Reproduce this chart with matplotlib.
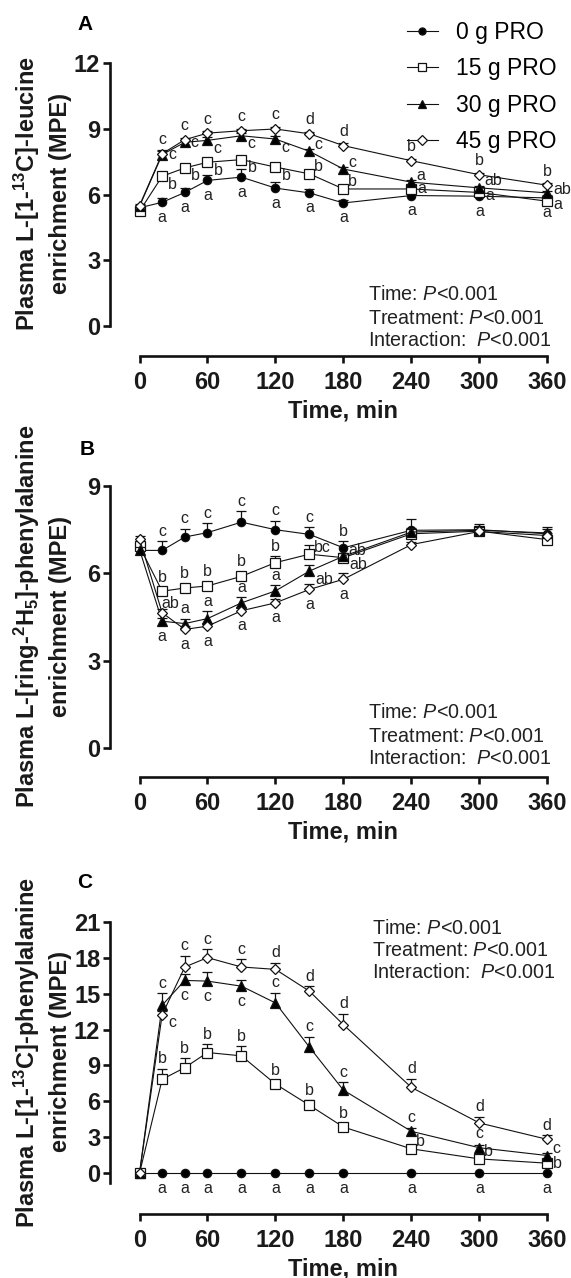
import matplotlib
matplotlib.use("Agg")
import matplotlib.pyplot as plt
from matplotlib.lines import Line2D

plt.rcParams['font.family'] = ['Liberation Sans', 'DejaVu Sans']
plt.rcParams['mathtext.fontset'] = 'custom'
plt.rcParams['mathtext.rm'] = 'Liberation Sans'
plt.rcParams['mathtext.it'] = 'Liberation Sans:italic'
plt.rcParams['mathtext.bf'] = 'Liberation Sans:bold'

# ---------------- data ----------------
TIME = [0, 20, 40, 60, 90, 120, 150, 180, 240, 300, 360]
XTICKS = [0, 60, 120, 180, 240, 300, 360]
GROUPS = ['0 g PRO', '15 g PRO', '30 g PRO', '45 g PRO']

# Panel A: plasma L-[1-13C]-leucine
LEU_0 = [5.40, 5.65, 6.10, 6.65, 6.80, 6.30, 6.08, 5.62, 5.96, 5.93, 5.85]
LEU_15 = [5.24, 6.84, 7.22, 7.48, 7.60, 7.26, 6.95, 6.26, 6.26, 6.10, 5.70]
LEU_30 = [5.47, 7.83, 8.39, 8.48, 8.69, 8.54, 7.98, 7.17, 6.57, 6.31, 6.08]
LEU_45 = [5.50, 7.87, 8.51, 8.81, 8.92, 9.00, 8.78, 8.24, 7.55, 6.91, 6.43]
LEU_SE_0 = [0.10, 0.20, 0.20, 0.26, 0.35, 0.30, 0.20, 0.12, 0.15, 0.12, 0.15]
LEU_SE_15 = [0.08, 0.15, 0.12, 0.12, 0.12, 0.15, 0.12, 0.10, 0.10, 0.10, 0.10]
LEU_SE_30 = [0.08, 0.22, 0.12, 0.15, 0.12, 0.15, 0.12, 0.10, 0.10, 0.10, 0.10]
LEU_SE_45 = [0.08, 0.12, 0.10, 0.10, 0.10, 0.10, 0.10, 0.10, 0.10, 0.10, 0.10]
LEU_LET_0 = ['', 'a', 'a', 'a', 'a', 'a', 'a', 'a', 'a', 'a', 'a']
LEU_LET_15 = ['', 'b', 'b', 'b', 'b', 'b', 'b', 'b', 'a', 'a', 'a']
LEU_LET_30 = ['', 'c', 'c', 'c', 'c', 'c', 'c', 'c', 'a', 'ab', 'ab']
LEU_LET_45 = ['', 'c', 'c', 'c', 'c', 'c', 'd', 'd', 'b', 'b', 'b']
LEU_YTICKS = [0, 3, 6, 9, 12]

# Panel B: plasma L-[ring-2H5]-phenylalanine
RING_0 = [6.79, 6.79, 7.25, 7.40, 7.76, 7.50, 7.34, 6.88, 7.48, 7.50, 7.36]
RING_15 = [6.93, 5.39, 5.50, 5.57, 5.90, 6.37, 6.66, 6.54, 7.36, 7.45, 7.16]
RING_30 = [6.82, 4.36, 4.28, 4.45, 4.99, 5.40, 6.08, 6.59, 7.42, 7.48, 7.39]
RING_45 = [7.19, 4.65, 4.08, 4.19, 4.72, 4.99, 5.45, 5.80, 6.99, 7.44, 7.30]
RING_SE_0 = [0.10, 0.32, 0.29, 0.33, 0.38, 0.31, 0.25, 0.22, 0.40, 0.18, 0.18]
RING_SE_15 = [0.12, 0.12, 0.10, 0.15, 0.15, 0.22, 0.30, 0.12, 0.15, 0.12, 0.10]
RING_SE_30 = [0.10, 0.12, 0.17, 0.26, 0.20, 0.20, 0.20, 0.12, 0.15, 0.12, 0.20]
RING_SE_45 = [0.10, 0.12, 0.10, 0.10, 0.12, 0.12, 0.20, 0.22, 0.10, 0.10, 0.10]
RING_LET_0 = ['', 'c', 'c', 'c', 'c', 'c', 'c', 'b', '', '', '']
RING_LET_15 = ['', 'b', 'b', 'b', 'b', 'b', 'bc', 'ab', '', '', '']
RING_LET_30 = ['', 'a', 'a', 'a', 'a', 'a', 'ab', 'ab', '', '', '']
RING_LET_45 = ['', 'ab', 'a', 'a', 'a', 'a', 'a', 'a', '', '', '']
RING_YTICKS = [0, 3, 6, 9]

# Panel C: plasma L-[1-13C]-phenylalanine
C13_0 = [0.0, 0.0, 0.0, 0.0, 0.0, 0.0, 0.0, 0.0, 0.0, 0.0, 0.0]
C13_15 = [0.0, 7.84, 8.82, 10.08, 9.80, 7.45, 5.68, 3.86, 2.04, 1.20, 0.84]
C13_30 = [0.0, 14.03, 16.10, 16.04, 15.62, 14.22, 10.53, 6.94, 3.50, 2.13, 1.48]
C13_45 = [0.0, 13.24, 17.22, 18.00, 17.22, 17.02, 15.20, 12.40, 7.17, 4.20, 2.83]
C13_SE_0 = [0.0, 0.0, 0.0, 0.0, 0.0, 0.0, 0.0, 0.0, 0.0, 0.0, 0.0]
C13_SE_15 = [0.0, 0.90, 0.80, 0.70, 0.80, 0.30, 0.40, 0.20, 0.20, 0.20, 0.20]
C13_SE_30 = [0.0, 1.00, 0.50, 0.75, 0.50, 0.84, 0.85, 0.65, 0.30, 0.25, 0.20]
C13_SE_45 = [0.0, 0.30, 0.92, 0.70, 0.65, 0.56, 0.42, 0.90, 0.70, 0.50, 0.34]
C13_LET_0 = ['', 'a', 'a', 'a', 'a', 'a', 'a', 'a', 'a', 'a', 'a']
C13_LET_15 = ['', 'b', 'b', 'b', 'b', 'b', 'b', 'b', 'b', 'b', 'b']
C13_LET_30 = ['', 'c', 'c', 'c', 'c', 'c', 'c', 'c', 'c', 'c', 'c']
C13_LET_45 = ['', 'c', 'c', 'c', 'c', 'd', 'd', 'd', 'd', 'd', 'd']
C13_YTICKS = [0, 3, 6, 9, 12, 15, 18, 21]

STATS = ['Time: $\\mathit{P}$<0.001', 'Treatment: $\\mathit{P}$<0.001',
         'Interaction:  $\\mathit{P}$<0.001']

# ---------------- label placement codes (layout only) ----------------
# u: above, d: below, r: right, r+/r-: right slightly up/down,
# ur/dr: upper/lower right, uc: up, close to the point on the right
POS_A = [
    ['', 'd', 'd', 'd', 'd', 'd', 'd', 'd', 'd', 'd', 'd'],
    ['', 'dr', 'dr', 'dr', 'dr', 'dr', 'ur', 'ur', 'r', 'r-', 'r-'],
    ['', 'r', 'r', 'dr', 'dr', 'dr', 'ur', 'ur', 'ur', 'ur', 'r+'],
    ['', 'u', 'u', 'u', 'u', 'u', 'u', 'u', 'u', 'u', 'u'],
]
POS_B = [
    ['', 'u', 'u', 'u', 'u', 'u', 'u', 'u', '', '', ''],
    ['', 'u', 'u', 'u', 'u', 'u', 'ur', 'ur', '', '', ''],
    ['', 'd', 'u', 'u', 'u', 'u', 'dr', 'dr', '', '', ''],
    ['', 'uc', 'd', 'd', 'd', 'd', 'd', 'd', '', '', ''],
]
POS_C = [
    ['', 'd', 'd', 'd', 'd', 'd', 'd', 'd', 'd', 'd', 'd'],
    ['', 'u', 'u', 'u', 'u', 'u', 'u', 'u', 'ur', 'ur', 'r'],
    ['', 'u', 'd', 'd', 'd', 'u', 'u', 'u', 'u', 'u', 'ur'],
    ['', 'dr', 'u', 'u', 'u', 'u', 'u', 'u', 'u', 'u', 'u'],
]
OFFSETS = {'d': (0, -15, 'center'), 'r': (6, 0, 'left'), 'r+': (6, 3, 'left'),
           'r-': (6, -3, 'left'), 'ur': (5, 7, 'left'), 'dr': (6, -8, 'left'),
           'uc': (-1, 9, 'left')}

STYLES = [
    dict(marker='o', ms=6.0, mfc='black'),
    dict(marker='s', ms=7.0, mfc='white'),
    dict(marker='^', ms=6.5, mfc='black'),
    dict(marker='D', ms=5.6, mfc='white'),
]

W, H = 571, 1278
fig = plt.figure(figsize=(W / 100, H / 100), dpi=100)

X0_PX = 139.5
PX_PER_MIN = 1.1328
XLIM = (-26.0, 362.0)
LEFT_PX = X0_PX + XLIM[0] * PX_PER_MIN
RIGHT_PX = X0_PX + XLIM[1] * PX_PER_MIN


def make_axes(top_px, bottom_px):
    return fig.add_axes([LEFT_PX / W, 1 - bottom_px / H,
                         (RIGHT_PX - LEFT_PX) / W, (bottom_px - top_px) / H])


def style_axes(ax, yticks, ylim, spine_low, ylabel, label_center_px, top_px, bottom_px):
    ax.set_xlim(*XLIM)
    ax.set_ylim(*ylim)
    for s in ('top', 'right'):
        ax.spines[s].set_visible(False)
    ax.spines['left'].set_bounds(spine_low, yticks[-1])
    ax.spines['bottom'].set_bounds(XTICKS[0], XTICKS[-1])
    for s in ('left', 'bottom'):
        ax.spines[s].set_linewidth(1.9)
        ax.spines[s].set_color('#111111')
    ax.set_xticks(XTICKS)
    ax.set_yticks(yticks)
    ax.tick_params(axis='both', width=1.9, length=5, color='#111111',
                   labelsize=17, labelcolor='#1a1a1a')
    ax.tick_params(axis='x', pad=6)
    ax.tick_params(axis='y', pad=2)
    for lbl in ax.get_xticklabels() + ax.get_yticklabels():
        lbl.set_fontweight('bold')
    ax.patch.set_alpha(0)
    h_px = bottom_px - top_px
    w_px = RIGHT_PX - LEFT_PX
    ax.set_ylabel(ylabel, fontsize=17, fontweight='bold', linespacing=1.35,
                  color='#1a1a1a')
    ax.yaxis.label.set_va('center')
    ax.yaxis.set_label_coords((42 - LEFT_PX) / w_px, (bottom_px - label_center_px) / h_px)
    ax.set_xlabel('Time, min', fontsize=17, fontweight='bold', color='#1a1a1a')
    ax.xaxis.label.set_va('center')
    ax.xaxis.set_label_coords((X0_PX + 180 * PX_PER_MIN - LEFT_PX) / w_px, -55 / h_px)


def draw_series(ax, series, ses, letters, poses, ppu):
    for k, (vals, se, let, pos, st) in enumerate(zip(series, ses, letters, poses, STYLES)):
        z = 2 + k
        tops = [v + s for v, s in zip(vals, se)]
        ax.plot(TIME, vals, color='#111111', lw=0.8, zorder=z, clip_on=False)
        ax.vlines(TIME, vals, tops, color='#111111', lw=0.9, zorder=z)
        ax.plot(TIME, tops, ls='none', marker='_', ms=6.5, mew=0.9,
                color='#111111', zorder=z, clip_on=False)
        ax.plot(TIME, vals, ls='none', marker=st['marker'], ms=st['ms'],
                mfc=st['mfc'], mec='#111111', mew=0.9, zorder=z + 0.5, clip_on=False)
        for t, v, s, txt, p in zip(TIME, vals, se, let, pos):
            if not txt:
                continue
            if p == 'u':
                dx, dy, ha = 0, max(s * ppu + 10, 14), 'center'
            else:
                dx, dy, ha = OFFSETS[p]
            ax.annotate(txt, xy=(t, v), xytext=(dx, dy), textcoords='offset pixels',
                        ha=ha, va='center', fontsize=11.5, color='#222222',
                        annotation_clip=False)


def stats_text(x_px, ys_px):
    for txt, y in zip(STATS, ys_px):
        fig.text(x_px / W, 1 - y / H, txt, fontsize=14.2, color='#222222',
                 ha='left', va='center')


# ---------------- Panel A ----------------
A_TOP, A_BOT = 63.3, 356.0
axA = make_axes(A_TOP, A_BOT)
ppuA = (A_BOT - A_TOP) / (12 + 1.37)
draw_series(axA, [LEU_0, LEU_15, LEU_30, LEU_45],
            [LEU_SE_0, LEU_SE_15, LEU_SE_30, LEU_SE_45],
            [LEU_LET_0, LEU_LET_15, LEU_LET_30, LEU_LET_45], POS_A, ppuA)
style_axes(axA, LEU_YTICKS, (-1.37, 12), 0,
           'Plasma L-[1-$^{\\mathbf{13}}$C]-leucine\nenrichment (MPE)', 193, A_TOP, A_BOT)
stats_text(368, [295, 318, 340])
fig.text(85 / W, 1 - 24 / H, 'A', fontsize=15, fontweight='bold', ha='center', va='center')

# ---------------- Panel B ----------------
B_TOP, B_BOT = 486.0, 776.7
axB = make_axes(B_TOP, B_BOT)
ppuB = (B_BOT - B_TOP) / (9 + 0.975)
draw_series(axB, [RING_0, RING_15, RING_30, RING_45],
            [RING_SE_0, RING_SE_15, RING_SE_30, RING_SE_45],
            [RING_LET_0, RING_LET_15, RING_LET_30, RING_LET_45], POS_B, ppuB)
style_axes(axB, RING_YTICKS, (-0.975, 9), 0,
           'Plasma L-[ring-$^{\\mathbf{2}}$H$_{\\mathbf{5}}$]-phenylalanine\nenrichment (MPE)',
           616, B_TOP, B_BOT)
stats_text(368, [713, 736, 758])
fig.text(87 / W, 1 - 449 / H, 'B', fontsize=15, fontweight='bold', ha='center', va='center')

# ---------------- Panel C ----------------
C_TOP, C_BOT = 921.7, 1214.0
axC = make_axes(C_TOP, C_BOT)
ppuC = (C_BOT - C_TOP) / (21 + 3.40)
draw_series(axC, [C13_0, C13_15, C13_30, C13_45],
            [C13_SE_0, C13_SE_15, C13_SE_30, C13_SE_45],
            [C13_LET_0, C13_LET_15, C13_LET_30, C13_LET_45], POS_C, ppuC)
style_axes(axC, C13_YTICKS, (-3.40, 21), -0.83,
           'Plasma L-[1-$^{\\mathbf{13}}$C]-phenylalanine\nenrichment (MPE)',
           1052, C_TOP, C_BOT)
stats_text(372, [929, 950, 972])
fig.text(85 / W, 1 - 883 / H, 'C', fontsize=15, fontweight='bold', ha='center', va='center')

# ---------------- Legend ----------------
handles = [Line2D([], [], color='#111111', lw=0.8, marker=st['marker'], ms=st['ms'] * 0.85,
                  mfc=st['mfc'], mec='#111111', mew=0.9) for st in STYLES]
fig.legend(handles, GROUPS, loc='upper left', bbox_to_anchor=(407 / W, 1 - 21 / H),
           bbox_transform=fig.transFigure, frameon=False, borderpad=0, borderaxespad=0,
           handlelength=1.35, handletextpad=0.79, labelspacing=0.58, fontsize=16.5)

fig.savefig('out.png', dpi=100)
